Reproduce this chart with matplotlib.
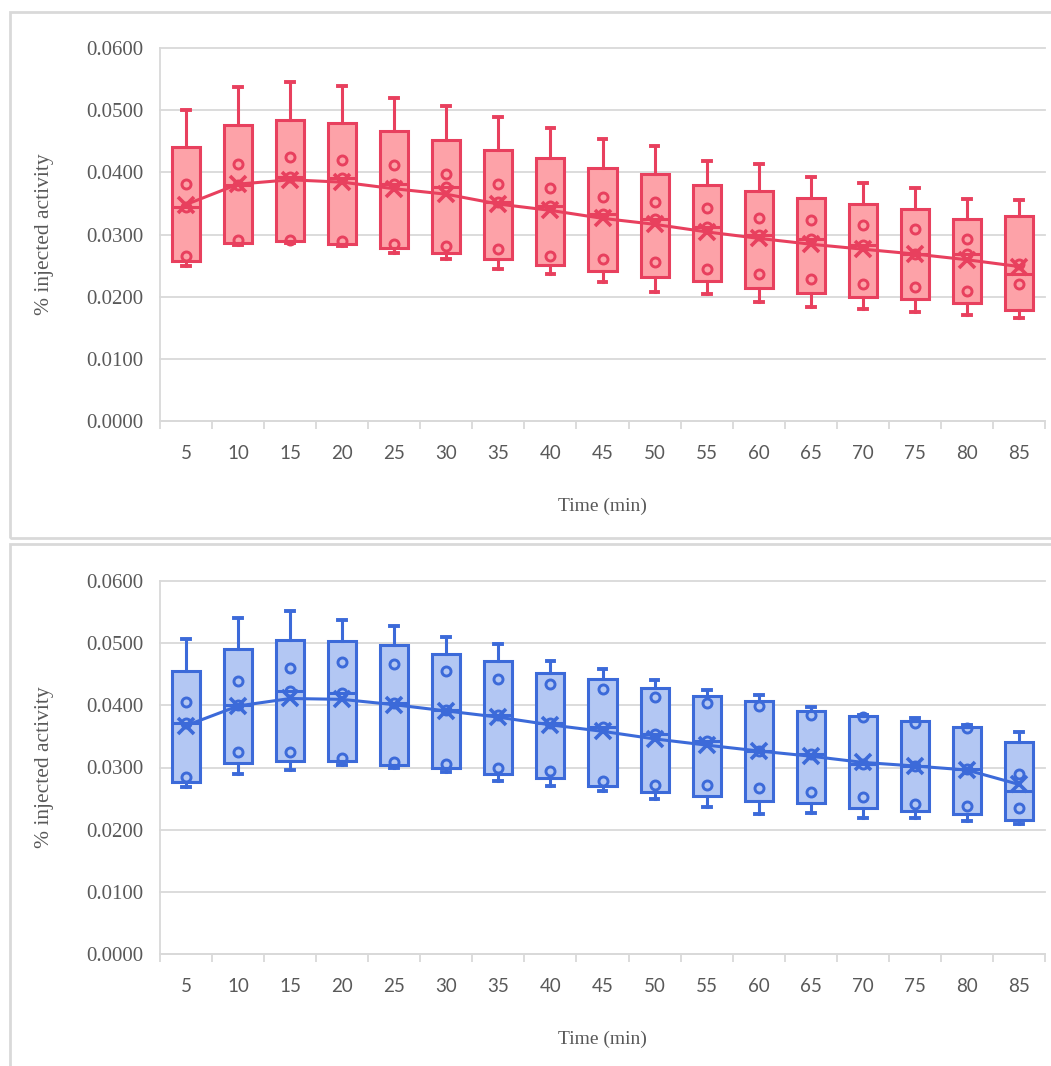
import numpy as np
import matplotlib
matplotlib.use("Agg")
import matplotlib.pyplot as plt
from matplotlib.patches import Rectangle

# Tempos (min)
tempos = [5, 10, 15, 20, 25, 30, 35, 40, 45, 50, 55, 60, 65, 70, 75, 80, 85]

# Amostras por tempo - painel de cima (vermelho)
amostras_vermelho = [
    [0.0250, 0.0265, 0.0345, 0.0381, 0.0500],
    [0.0283, 0.0291, 0.0380, 0.0413, 0.0538],
    [0.0287, 0.0291, 0.0393, 0.0424, 0.0545],
    [0.0281, 0.0290, 0.0391, 0.0420, 0.0539],
    [0.0270, 0.0285, 0.0381, 0.0412, 0.0520],
    [0.0260, 0.0282, 0.0377, 0.0398, 0.0507],
    [0.0244, 0.0277, 0.0353, 0.0382, 0.0489],
    [0.0237, 0.0266, 0.0346, 0.0374, 0.0471],
    [0.0223, 0.0260, 0.0333, 0.0361, 0.0453],
    [0.0207, 0.0255, 0.0325, 0.0352, 0.0443],
    [0.0204, 0.0245, 0.0312, 0.0342, 0.0418],
    [0.0192, 0.0237, 0.0300, 0.0327, 0.0413],
    [0.0184, 0.0229, 0.0292, 0.0324, 0.0393],
    [0.0180, 0.0220, 0.0283, 0.0316, 0.0383],
    [0.0176, 0.0216, 0.0268, 0.0309, 0.0374],
    [0.0171, 0.0209, 0.0268, 0.0292, 0.0357],
    [0.0165, 0.0221, 0.0253, 0.0355],
]

# Amostras por tempo - painel de baixo (azul)
amostras_azul = [
    [0.0268, 0.0285, 0.0372, 0.0405, 0.0507],
    [0.0289, 0.0325, 0.0401, 0.0439, 0.0541],
    [0.0296, 0.0325, 0.0423, 0.0460, 0.0551],
    [0.0304, 0.0316, 0.0420, 0.0470, 0.0538],
    [0.0300, 0.0309, 0.0403, 0.0466, 0.0527],
    [0.0292, 0.0305, 0.0393, 0.0455, 0.0510],
    [0.0279, 0.0299, 0.0385, 0.0443, 0.0499],
    [0.0271, 0.0295, 0.0372, 0.0434, 0.0471],
    [0.0263, 0.0278, 0.0365, 0.0426, 0.0459],
    [0.0249, 0.0272, 0.0354, 0.0414, 0.0441],
    [0.0237, 0.0272, 0.0342, 0.0404, 0.0425],
    [0.0225, 0.0267, 0.0326, 0.0399, 0.0416],
    [0.0227, 0.0260, 0.0322, 0.0384, 0.0398],
    [0.0218, 0.0252, 0.0305, 0.0381, 0.0385],
    [0.0218, 0.0242, 0.0302, 0.0371, 0.0379],
    [0.0214, 0.0238, 0.0297, 0.0363, 0.0368],
    [0.0209, 0.0235, 0.0290, 0.0357],
]

yticks = [0.0, 0.01, 0.02, 0.03, 0.04, 0.05, 0.06]

CINZA = '#d9d9d9'
TEXTO = '#595959'


# Estatisticas no estilo do Excel (quartil exclusivo)
def estatisticas(amostras):
    stats = []
    for d in amostras:
        d = np.sort(np.array(d))
        q1, med, q3 = np.quantile(d, [0.25, 0.5, 0.75], method='weibull')
        stats.append({'whislo': d[0], 'q1': q1, 'med': med, 'q3': q3,
                      'whishi': d[-1], 'mean': d.mean(), 'fliers': []})
    return stats


def desenhar(ax, amostras, cor_borda, cor_fundo):
    pos = np.arange(1, len(tempos) + 1)
    stats = estatisticas(amostras)
    lw = 2.2
    ax.bxp(stats, positions=pos, widths=0.54, capwidths=0.15,
           showfliers=False, showmeans=False, patch_artist=True,
           boxprops=dict(facecolor=cor_fundo, edgecolor=cor_borda, linewidth=lw),
           whiskerprops=dict(color=cor_borda, linewidth=lw),
           capprops=dict(color=cor_borda, linewidth=2.8),
           medianprops=dict(color=cor_borda, linewidth=lw, solid_capstyle='butt'),
           zorder=2)

    # pontos internos (sem min e max)
    for p, d in zip(pos, amostras):
        d = sorted(d)
        internos = d[1:-1]
        ax.plot([p] * len(internos), internos, linestyle='none', marker='o',
                markersize=6.5, markerfacecolor='none', markeredgecolor=cor_borda,
                markeredgewidth=2.1, zorder=3)

    # linha das medias
    medias = [s['mean'] for s in stats]
    ax.plot(pos, medias, color=cor_borda, linewidth=2.2, marker='x',
            markersize=11, markeredgewidth=2.6, zorder=4)

    ax.set_xlim(0.5, len(tempos) + 0.5)
    ax.set_ylim(0, 0.06)
    ax.set_yticks(yticks)
    ax.set_yticklabels([f"{v:.4f}" for v in yticks], family='Liberation Serif',
                       fontsize=15, color=TEXTO)
    ax.set_xticks(pos)
    ax.set_xticklabels([str(t) for t in tempos], family='Lato',
                       fontsize=13.5, color=TEXTO)
    ax.set_xticks(np.arange(0.5, len(tempos) + 1, 1), minor=True)
    ax.tick_params(axis='x', which='major', length=0, pad=17)
    ax.tick_params(axis='x', which='minor', length=6, width=1.3, color=CINZA)
    ax.tick_params(axis='y', length=0, pad=12)

    ax.grid(axis='y', color=CINZA, linewidth=1.3)
    for g in ax.yaxis.get_gridlines():
        g.set_clip_on(False)
    ax.set_axisbelow(True)
    for lado in ['top', 'right']:
        ax.spines[lado].set_visible(False)
    for lado in ['left', 'bottom']:
        ax.spines[lado].set_color(CINZA)
        ax.spines[lado].set_linewidth(1.3)

    ax.set_ylabel('% injected activity', family='Liberation Serif',
                  fontsize=15.5, color=TEXTO)
    ax.yaxis.set_label_coords(-0.130, 0.5)
    ax.yaxis.label.set_va('center')
    ax.set_xlabel('Time (min)', family='Liberation Serif', fontsize=14,
                  color=TEXTO)
    ax.xaxis.set_label_coords(0.5, -0.228)
    ax.xaxis.label.set_va('center')


fig = plt.figure(figsize=(10.51, 10.66), dpi=100)

# molduras das duas areas de grafico
fig.patches.append(Rectangle((10 / 1051, (1066 - 538) / 1066), 1.0, 526 / 1066,
                             transform=fig.transFigure, facecolor='none',
                             edgecolor=CINZA, linewidth=2, zorder=-1))
fig.patches.append(Rectangle((10 / 1051, -0.05), 1.0, 0.05 + (1066 - 544) / 1066,
                             transform=fig.transFigure, facecolor='none',
                             edgecolor=CINZA, linewidth=2, zorder=-1))

ax1 = fig.add_axes([160 / 1051, (1066 - 421) / 1066, 885 / 1051, 373 / 1066])
ax2 = fig.add_axes([160 / 1051, (1066 - 954) / 1066, 885 / 1051, 373 / 1066])
ax1.patch.set_alpha(0)
ax2.patch.set_alpha(0)

desenhar(ax1, amostras_vermelho, '#E8405E', '#FDA2A8')
desenhar(ax2, amostras_azul, '#3C6AD9', '#B3C7F3')

fig.savefig('out.png', dpi=100)
